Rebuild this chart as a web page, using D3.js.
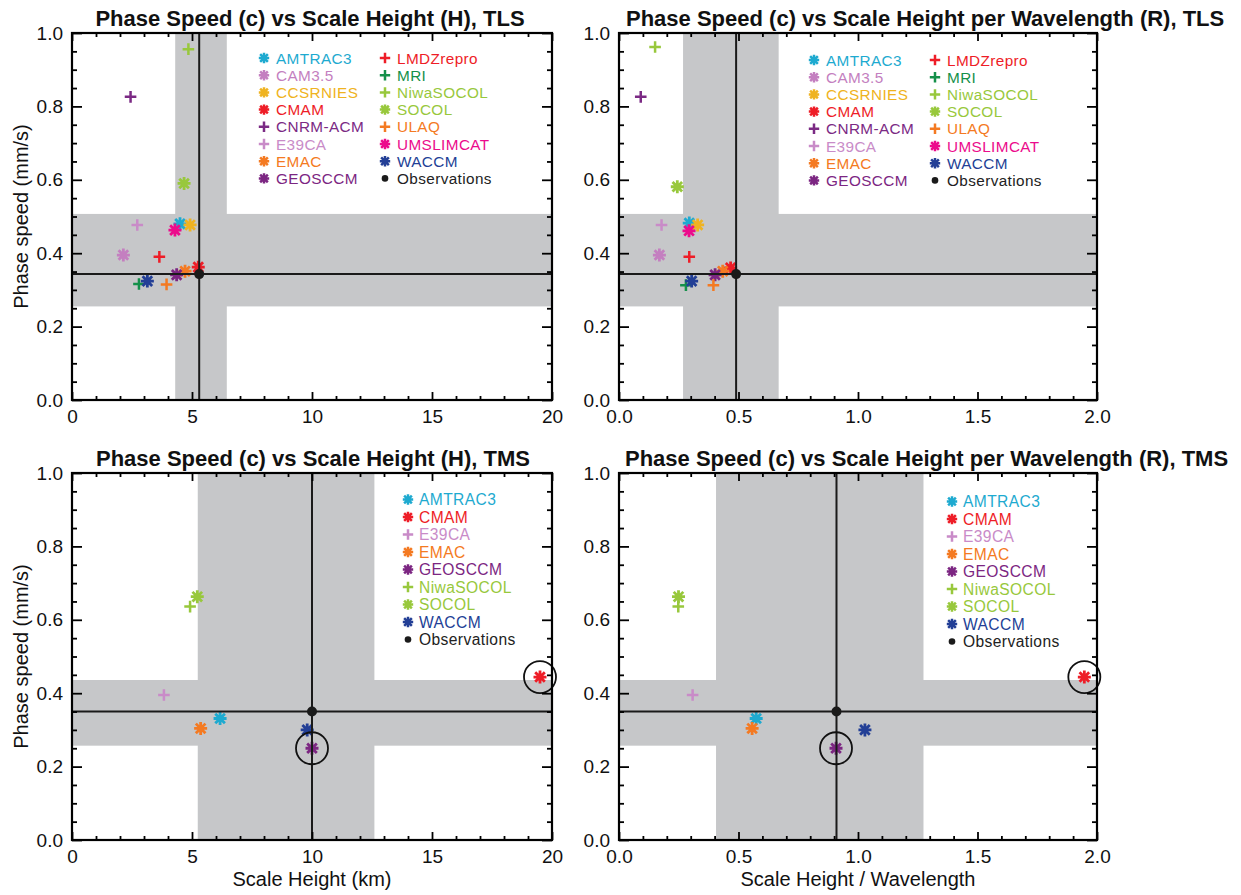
<!DOCTYPE html>
<html><head><meta charset="utf-8">
<script src="https://cdn.jsdelivr.net/npm/d3@7"></script>
<style>
body{margin:0;background:#fff}
text{font-family:"Liberation Sans",Arial,Helvetica,sans-serif}
</style>
</head><body><svg id="c" width="1241" height="895"></svg>
<script>
// ---------------- data ----------------
const tlsModels = ["AMTRAC3","CAM3.5","CCSRNIES","CMAM","CNRM-ACM","E39CA","EMAC","GEOSCCM",
                   "LMDZrepro","MRI","NiwaSOCOL","SOCOL","ULAQ","UMSLIMCAT","WACCM"];
const tlsScaleHeight = [4.5, 2.14, 4.92, 5.26, 2.44, 2.72, 4.71, 4.36, 3.64, 2.79, 4.85, 4.67, 3.94, 4.29, 3.14];
const tlsSpeedH      = [0.48, 0.395, 0.477, 0.362, 0.826, 0.477, 0.351, 0.341, 0.39, 0.316, 0.956, 0.59, 0.315, 0.463, 0.324];
const tlsRatio       = [0.294, 0.169, 0.329, 0.467, 0.091, 0.178, 0.434, 0.402, 0.294, 0.28, 0.151, 0.244, 0.395, 0.293, 0.304];
const tlsSpeedR      = [0.482, 0.395, 0.477, 0.36, 0.826, 0.477, 0.351, 0.341, 0.39, 0.313, 0.962, 0.581, 0.313, 0.461, 0.324];

const tmsModels = ["AMTRAC3","CMAM","E39CA","EMAC","GEOSCCM","NiwaSOCOL","SOCOL","WACCM"];
const tmsScaleHeight = [6.17, 19.5, 3.83, 5.36, 10.0, 4.92, 5.22, 9.8];
const tmsRatio       = [0.574, 1.947, 0.308, 0.557, 0.908, 0.248, 0.249, 1.029];
const tmsSpeed       = [0.331, 0.444, 0.395, 0.304, 0.25, 0.636, 0.663, 0.30];
const tmsCircled     = ["CMAM","GEOSCCM"];

// observations: value and uncertainty range
const obsTlsH = 5.3,  obsTlsHRange = [4.3, 6.45];
const obsTlsR = 0.49, obsTlsRRange = [0.268, 0.668];
const obsTlsC = 0.343, obsTlsCRange = [0.255, 0.507];
const obsTmsH = 10.0, obsTmsHRange = [5.24, 12.6];
const obsTmsR = 0.91, obsTmsRRange = [0.406, 1.274];
const obsTmsC = 0.35, obsTmsCRange = [0.257, 0.436];

const titles = ["Phase Speed (c) vs Scale Height (H), TLS",
                "Phase Speed (c) vs Scale Height per Wavelength (R), TLS",
                "Phase Speed (c) vs Scale Height (H), TMS",
                "Phase Speed (c) vs Scale Height per Wavelength (R), TMS"];
const yTitle = "Phase speed (mm/s)";
const xTitles = ["Scale Height (km)", "Scale Height / Wavelength"];

// ---------------- styles ----------------
const modelColor = {
  "AMTRAC3":"#1eaad0","CAM3.5":"#c47fc0","CCSRNIES":"#efb321","CMAM":"#ee1d27",
  "CNRM-ACM":"#7b2a84","E39CA":"#c98bc8","EMAC":"#f47a22","GEOSCCM":"#7c2682",
  "LMDZrepro":"#ee1d27","MRI":"#15904a","NiwaSOCOL":"#98c83c","SOCOL":"#98c83c",
  "ULAQ":"#f47a22","UMSLIMCAT":"#ec0b8c","WACCM":"#233f96"
};
const modelSymbol = {
  "AMTRAC3":"ast","CAM3.5":"ast","CCSRNIES":"ast","CMAM":"ast","CNRM-ACM":"plus","E39CA":"plus",
  "EMAC":"ast","GEOSCCM":"ast","LMDZrepro":"plus","MRI":"plus","NiwaSOCOL":"plus","SOCOL":"ast",
  "ULAQ":"plus","UMSLIMCAT":"ast","WACCM":"ast"
};
const bandColor = "#c6c7c9";
const obsColor = "#1a1a1a";

function astPath(r){ const d=r*0.74; return `M0,${-r}V${r}M${-r},0H${r}M${-d},${-d}L${d},${d}M${-d},${d}L${d},${-d}`; }
function plusPath(r){ return `M${-r},0H${r}M0,${-r}V${r}`; }

const svg = d3.select("#c");

const panels = [
  {l:72, r:552, t:33, b:400, xdom:[0,20], xmaj:5, xmin:1, fmt:d3.format("d"),
   models:tlsModels, xs:tlsScaleHeight, ys:tlsSpeedH, obsX:obsTlsH, obsXR:obsTlsHRange, obsY:obsTlsC, obsYR:obsTlsCRange,
   title:titles[0], tx:310, tanchor:"middle", ty:26, xTitle:null, yTitle:true,
   legend:{cols:[[264,276],[385,397]], y0:58, dy:17.2, rows:8, fs:15.3}, circled:[]},
  {l:619, r:1097, t:33, b:400, xdom:[0,2], xmaj:0.5, xmin:0.1, fmt:d3.format(".1f"),
   models:tlsModels, xs:tlsRatio, ys:tlsSpeedR, obsX:obsTlsR, obsXR:obsTlsRRange, obsY:obsTlsC, obsYR:obsTlsCRange,
   title:titles[1], tx:626, tanchor:"start", ty:26, xTitle:null, yTitle:false,
   legend:{cols:[[814,826],[935,947]], y0:60, dy:17.2, rows:8, fs:15.3}, circled:[]},
  {l:72, r:552, t:473, b:840, xdom:[0,20], xmaj:5, xmin:1, fmt:d3.format("d"),
   models:tmsModels, xs:tmsScaleHeight, ys:tmsSpeed, obsX:obsTmsH, obsXR:obsTmsHRange, obsY:obsTmsC, obsYR:obsTmsCRange,
   title:titles[2], tx:313, tanchor:"middle", ty:466, xTitle:xTitles[0], yTitle:true,
   legend:{cols:[[408,419]], y0:499.5, dy:17.5, rows:9, fs:15.6}, circled:tmsCircled},
  {l:619, r:1097, t:473, b:840, xdom:[0,2], xmaj:0.5, xmin:0.1, fmt:d3.format(".1f"),
   models:tmsModels, xs:tmsRatio, ys:tmsSpeed, obsX:obsTmsR, obsXR:obsTmsRRange, obsY:obsTmsC, obsYR:obsTmsCRange,
   title:titles[3], tx:625, tanchor:"start", ty:466, xTitle:xTitles[1], yTitle:false,
   legend:{cols:[[952,963]], y0:501.5, dy:17.5, rows:9, fs:15.6}, circled:tmsCircled}
];

panels.forEach(p => {
  const x = d3.scaleLinear().domain(p.xdom).range([p.l, p.r]);
  const y = d3.scaleLinear().domain([0,1]).range([p.b, p.t]);
  const g = svg.append("g");

  // bands
  g.append("rect").attr("x", x(p.obsXR[0])).attr("y", p.t)
    .attr("width", x(p.obsXR[1]) - x(p.obsXR[0])).attr("height", p.b - p.t).attr("fill", bandColor);
  g.append("rect").attr("x", p.l).attr("y", y(p.obsYR[1]))
    .attr("width", p.r - p.l).attr("height", y(p.obsYR[0]) - y(p.obsYR[1])).attr("fill", bandColor);

  // markers
  const pts = p.models.map((m,i)=>({m, x:p.xs[i], y:p.ys[i]}));
  g.selectAll("path.pt").data(pts).enter().append("path")
    .attr("class","pt")
    .attr("transform", d=>`translate(${x(d.x)},${y(d.y)})`)
    .attr("d", d=> modelSymbol[d.m]==="ast" ? astPath(6.5) : plusPath(5.8))
    .attr("fill","none").attr("stroke", d=>modelColor[d.m])
    .attr("stroke-width", d=> modelSymbol[d.m]==="ast" ? 2.8 : 2.5);

  // observation lines
  g.append("line").attr("x1", x(p.obsX)).attr("x2", x(p.obsX)).attr("y1", p.t).attr("y2", p.b)
    .attr("stroke", obsColor).attr("stroke-width", 2);
  g.append("line").attr("x1", p.l).attr("x2", p.r).attr("y1", y(p.obsY)).attr("y2", y(p.obsY))
    .attr("stroke", obsColor).attr("stroke-width", 2);
  g.append("circle").attr("cx", x(p.obsX)).attr("cy", y(p.obsY)).attr("r", 5).attr("fill", obsColor);

  // circled points
  pts.filter(d=>p.circled.includes(d.m)).forEach(d=>{
    g.append("circle").attr("cx", x(d.x)).attr("cy", y(d.y)).attr("r", 16)
      .attr("fill","none").attr("stroke","#111").attr("stroke-width",1.8);
  });

  // axes
  const xMaj = d3.range(p.xdom[0], p.xdom[1] + p.xmaj/2, p.xmaj);
  const xMin = d3.range(p.xdom[0], p.xdom[1] + p.xmin/2, p.xmin).filter(v => Math.abs(v/p.xmaj - Math.round(v/p.xmaj)) > 1e-6);
  const yMaj = d3.range(0, 1.01, 0.2);
  const yMin = d3.range(0, 1.01, 0.05).filter(v => Math.abs(v/0.2 - Math.round(v/0.2)) > 1e-6);

  function styleAxis(sel){
    sel.select(".domain").remove();
    sel.selectAll(".tick line").attr("stroke","#000").attr("stroke-width",1.8);
    sel.selectAll("text").attr("fill","#111").style("font-size","19px");
  }
  g.append("g").attr("transform",`translate(0,${p.b})`)
    .call(d3.axisBottom(x).tickValues(xMaj).tickSize(-8).tickPadding(10).tickFormat(p.fmt)).call(styleAxis);
  g.append("g").attr("transform",`translate(0,${p.b})`)
    .call(d3.axisBottom(x).tickValues(xMin).tickSize(-4).tickFormat("")).call(styleAxis);
  g.append("g").attr("transform",`translate(0,${p.t})`)
    .call(d3.axisTop(x).tickValues(xMaj).tickSize(-8).tickFormat("")).call(styleAxis);
  g.append("g").attr("transform",`translate(0,${p.t})`)
    .call(d3.axisTop(x).tickValues(xMin).tickSize(-4).tickFormat("")).call(styleAxis);
  g.append("g").attr("transform",`translate(${p.l},0)`)
    .call(d3.axisLeft(y).tickValues(yMaj).tickSize(-10).tickPadding(9).tickFormat(d3.format(".1f"))).call(styleAxis);
  g.append("g").attr("transform",`translate(${p.l},0)`)
    .call(d3.axisLeft(y).tickValues(yMin).tickSize(-5).tickFormat("")).call(styleAxis);
  g.append("g").attr("transform",`translate(${p.r},0)`)
    .call(d3.axisRight(y).tickValues(yMaj).tickSize(-10).tickFormat("")).call(styleAxis);
  g.append("g").attr("transform",`translate(${p.r},0)`)
    .call(d3.axisRight(y).tickValues(yMin).tickSize(-5).tickFormat("")).call(styleAxis);

  // frame
  g.append("rect").attr("x",p.l).attr("y",p.t).attr("width",p.r-p.l).attr("height",p.b-p.t)
    .attr("fill","none").attr("stroke","#000").attr("stroke-width",2.2);

  // title
  g.append("text").attr("x",p.tx).attr("y",p.ty).attr("text-anchor",p.tanchor)
    .style("font-size","22px").style("font-weight","bold").attr("fill","#111").text(p.title);

  if (p.xTitle) {
    g.append("text").attr("x",(p.l+p.r)/2).attr("y",p.b+46).attr("text-anchor","middle")
      .style("font-size","20px").attr("fill","#111").text(p.xTitle);
  }
  if (p.yTitle) {
    g.append("text").attr("transform",`translate(28,${(p.t+p.b)/2}) rotate(-90)`).attr("text-anchor","middle")
      .style("font-size","20px").attr("fill","#111").text(yTitle);
  }

  // legend
  const items = p.models.map(m=>({name:m, color:modelColor[m], sym:modelSymbol[m]}));
  items.push({name:"Observations", color:obsColor, sym:"dot"});
  const lg = g.append("g");
  items.forEach((it,i)=>{
    const col = Math.floor(i / p.legend.rows), row = i % p.legend.rows;
    const [mx, tx] = p.legend.cols[col];
    const cy = p.legend.y0 + row*p.legend.dy;
    if (it.sym === "dot") {
      lg.append("circle").attr("cx",mx).attr("cy",cy).attr("r",3.3).attr("fill",it.color);
    } else {
      lg.append("path").attr("transform",`translate(${mx},${cy})`)
        .attr("d", it.sym==="ast" ? astPath(5.2) : plusPath(5.2))
        .attr("fill","none").attr("stroke",it.color).attr("stroke-width",2.5);
    }
    lg.append("text").attr("x",tx).attr("y",cy+5.6).attr("fill", it.sym==="dot" ? "#222" : it.color)
      .style("font-size",p.legend.fs+"px").style("letter-spacing","0.4px").text(it.name);
  });
});
</script>
</body></html>
